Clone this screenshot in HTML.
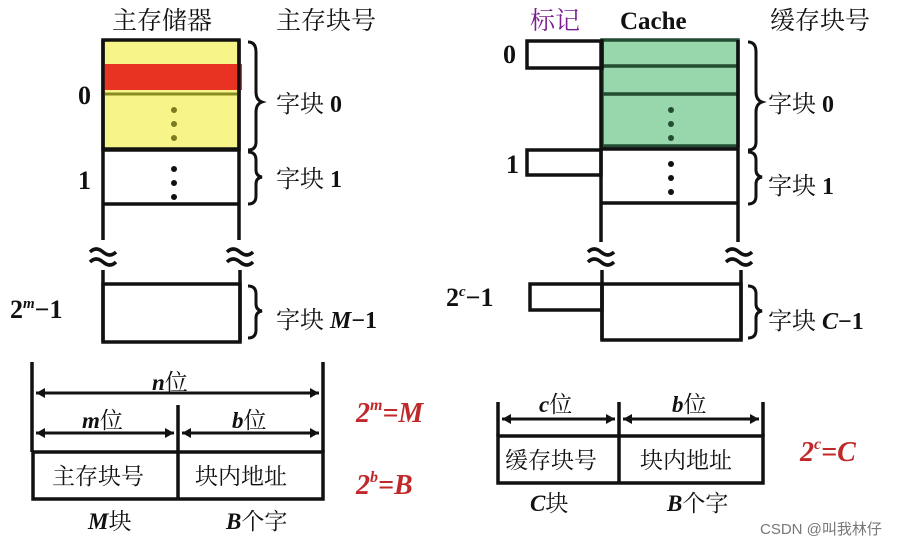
<!DOCTYPE html>
<html><head><meta charset="utf-8"><style>
body{margin:0;background:#fff}
svg{display:block}
text{font-family:"Liberation Serif","Noto Serif CJK SC","Noto Sans CJK SC",serif;fill:#111}
.b{font-weight:bold}
.i{font-style:italic;font-weight:bold}
.r{fill:#c0282a;font-weight:bold;font-style:italic}
</style></head><body>
<svg width="912" height="545" viewBox="0 0 912 545" xmlns="http://www.w3.org/2000/svg">
<g stroke="#111" stroke-width="3.5" fill="none">
<rect x="103" y="40" width="136" height="109" fill="#f7f58a" stroke="#111"/>
<rect x="102" y="64" width="140" height="26" fill="#e83323" stroke="none"/>
<line x1="104" y1="94" x2="238" y2="94" stroke="#888a20" stroke-width="3"/>
<line x1="103" y1="40" x2="103" y2="240"/>
<line x1="239" y1="40" x2="239" y2="240"/>
<line x1="103" y1="150" x2="239" y2="150"/>
<line x1="103" y1="204" x2="239" y2="204"/>
<line x1="103" y1="270" x2="103" y2="342"/>
<line x1="240" y1="270" x2="240" y2="342"/>
<rect x="103" y="284" width="137" height="58"/>
<path d="M248 42 q8 0 8 10 v40 q0 8 6 10 q-6 2 -6 10 v30 q0 8 -8 8" stroke-width="3"/>
<path d="M248 152 q8 0 8 8 v10 q0 6 6 7 q-6 1 -6 7 v12 q0 8 -8 8" stroke-width="3"/>
<path d="M248 286 q8 0 8 8 v10 q0 6 6 7 q-6 1 -6 7 v12 q0 8 -8 8" stroke-width="3"/>
<rect x="602" y="40" width="136" height="106" fill="#98d6ac" stroke="#234d32"/>
<line x1="602" y1="66" x2="738" y2="66" stroke="#234d32"/>
<line x1="602" y1="94" x2="738" y2="94" stroke="#234d32"/>
<line x1="601" y1="40" x2="601" y2="242"/>
<line x1="738" y1="40" x2="738" y2="242"/>
<line x1="601" y1="149" x2="738" y2="149"/>
<line x1="601" y1="203" x2="738" y2="203"/>
<rect x="527" y="41" width="75" height="27"/>
<rect x="527" y="150" width="74" height="25"/>
<line x1="602" y1="270" x2="602" y2="340"/>
<line x1="741" y1="270" x2="741" y2="340"/>
<rect x="602" y="284" width="139" height="56"/>
<rect x="530" y="284" width="72" height="26"/>
<path d="M748 42 q8 0 8 10 v40 q0 8 6 10 q-6 2 -6 10 v30 q0 8 -8 8" stroke-width="3"/>
<path d="M748 152 q8 0 8 8 v10 q0 6 6 7 q-6 1 -6 7 v12 q0 8 -8 8" stroke-width="3"/>
<path d="M748 286 q8 0 8 8 v10 q0 6 6 7 q-6 1 -6 7 v12 q0 8 -8 8" stroke-width="3"/>
<line x1="32" y1="362" x2="32" y2="452"/>
<line x1="323" y1="362" x2="323" y2="452"/>
<line x1="178" y1="405" x2="178" y2="452"/>
<rect x="33" y="452" width="290" height="47"/>
<line x1="178" y1="452" x2="178" y2="499"/>
<line x1="36" y1="393" x2="319" y2="393" stroke-width="3"/>
<line x1="36" y1="433" x2="174" y2="433" stroke-width="3"/>
<line x1="182" y1="433" x2="319" y2="433" stroke-width="3"/>
<line x1="498" y1="402" x2="498" y2="436"/>
<line x1="619" y1="402" x2="619" y2="436"/>
<line x1="763" y1="402" x2="763" y2="436"/>
<rect x="498" y="436" width="265" height="47"/>
<line x1="619" y1="436" x2="619" y2="483"/>
<line x1="502" y1="419" x2="615" y2="419" stroke-width="3"/>
<line x1="623" y1="419" x2="759" y2="419" stroke-width="3"/>
<!-- tilde-like approx marks -->
<g stroke-width="3.5">
<path d="M90 252 q6 -6 13 0 t13 0"/><path d="M90 262 q6 -6 13 0 t13 0"/>
<path d="M227 252 q6 -6 13 0 t13 0"/><path d="M227 262 q6 -6 13 0 t13 0"/>
<path d="M588 252 q6 -6 13 0 t13 0"/><path d="M588 262 q6 -6 13 0 t13 0"/>
<path d="M726 252 q6 -6 13 0 t13 0"/><path d="M726 262 q6 -6 13 0 t13 0"/>
</g>
</g>
<g fill="#111">
<path d="M36 393 l9 -5 v10z M319 393 l-9 -5 v10z M36 433 l9 -5 v10z M174 433 l-9 -5 v10z M182 433 l9 -5 v10z M319 433 l-9 -5 v10z M502 419 l9 -5 v10z M615 419 l-9 -5 v10z M623 419 l9 -5 v10z M759 419 l-9 -5 v10z"/>
<circle cx="174" cy="110" r="3" fill="#7a7a20"/><circle cx="174" cy="124" r="3" fill="#7a7a20"/><circle cx="174" cy="138" r="3" fill="#7a7a20"/>
<circle cx="174" cy="169" r="3"/><circle cx="174" cy="183" r="3"/><circle cx="174" cy="197" r="3"/>
<circle cx="671" cy="110" r="3" fill="#234d32"/><circle cx="671" cy="124" r="3" fill="#234d32"/><circle cx="671" cy="138" r="3" fill="#234d32"/>
<circle cx="671" cy="164" r="3"/><circle cx="671" cy="178" r="3"/><circle cx="671" cy="192" r="3"/>
</g>
<text x="112" y="29" font-size="25">主存储器</text>
<text x="276" y="29" font-size="25">主存块号</text>
<text x="530" y="29" font-size="25" style="fill:#7a2090">标记</text>
<text x="620" y="29" font-size="25" class="b">Cache</text>
<text x="770" y="29" font-size="25">缓存块号</text>
<text x="78" y="104" font-size="26" class="b">0</text>
<text x="78" y="189" font-size="26" class="b">1</text>
<text x="10" y="318" font-size="26" class="b">2<tspan font-size="15" dy="-10" font-style="italic">m</tspan><tspan dy="10">−1</tspan></text>
<text x="276" y="112" font-size="24">字块 <tspan class="b">0</tspan></text>
<text x="276" y="187" font-size="24">字块 <tspan class="b">1</tspan></text>
<text x="276" y="328" font-size="24">字块 <tspan class="i">M</tspan><tspan class="b">−1</tspan></text>
<text x="503" y="63" font-size="26" class="b">0</text>
<text x="506" y="173" font-size="26" class="b">1</text>
<text x="446" y="306" font-size="26" class="b">2<tspan font-size="15" dy="-10" font-style="italic">c</tspan><tspan dy="10">−1</tspan></text>
<text x="768" y="112" font-size="24">字块 <tspan class="b">0</tspan></text>
<text x="768" y="194" font-size="24">字块 <tspan class="b">1</tspan></text>
<text x="768" y="329" font-size="24">字块 <tspan class="i">C</tspan><tspan class="b">−1</tspan></text>
<text x="152" y="390" font-size="23"><tspan class="i">n</tspan>位</text>
<text x="82" y="428" font-size="23"><tspan class="i">m</tspan>位</text>
<text x="232" y="428" font-size="23"><tspan class="i">b</tspan>位</text>
<text x="52" y="484" font-size="23">主存块号</text>
<text x="195" y="484" font-size="23">块内地址</text>
<text x="88" y="529" font-size="23"><tspan class="i">M</tspan>块</text>
<text x="226" y="529" font-size="23"><tspan class="i">B</tspan>个字</text>
<text x="539" y="412" font-size="23"><tspan class="i">c</tspan>位</text>
<text x="672" y="412" font-size="23"><tspan class="i">b</tspan>位</text>
<text x="505" y="468" font-size="23">缓存块号</text>
<text x="640" y="468" font-size="23">块内地址</text>
<text x="530" y="511" font-size="23"><tspan class="i">C</tspan>块</text>
<text x="667" y="511" font-size="23"><tspan class="i">B</tspan>个字</text>
<text x="356" y="422" font-size="28" class="r">2<tspan font-size="16" dy="-12">m</tspan><tspan dy="12">=M</tspan></text>
<text x="356" y="494" font-size="28" class="r">2<tspan font-size="16" dy="-12">b</tspan><tspan dy="12">=B</tspan></text>
<text x="800" y="461" font-size="28" class="r">2<tspan font-size="16" dy="-12">c</tspan><tspan dy="12">=C</tspan></text>
<text x="760" y="534" font-size="15" style="fill:#777;font-family:'Liberation Sans','Noto Sans CJK SC',sans-serif">CSDN @叫我林仔</text>
</svg>
</body></html>
